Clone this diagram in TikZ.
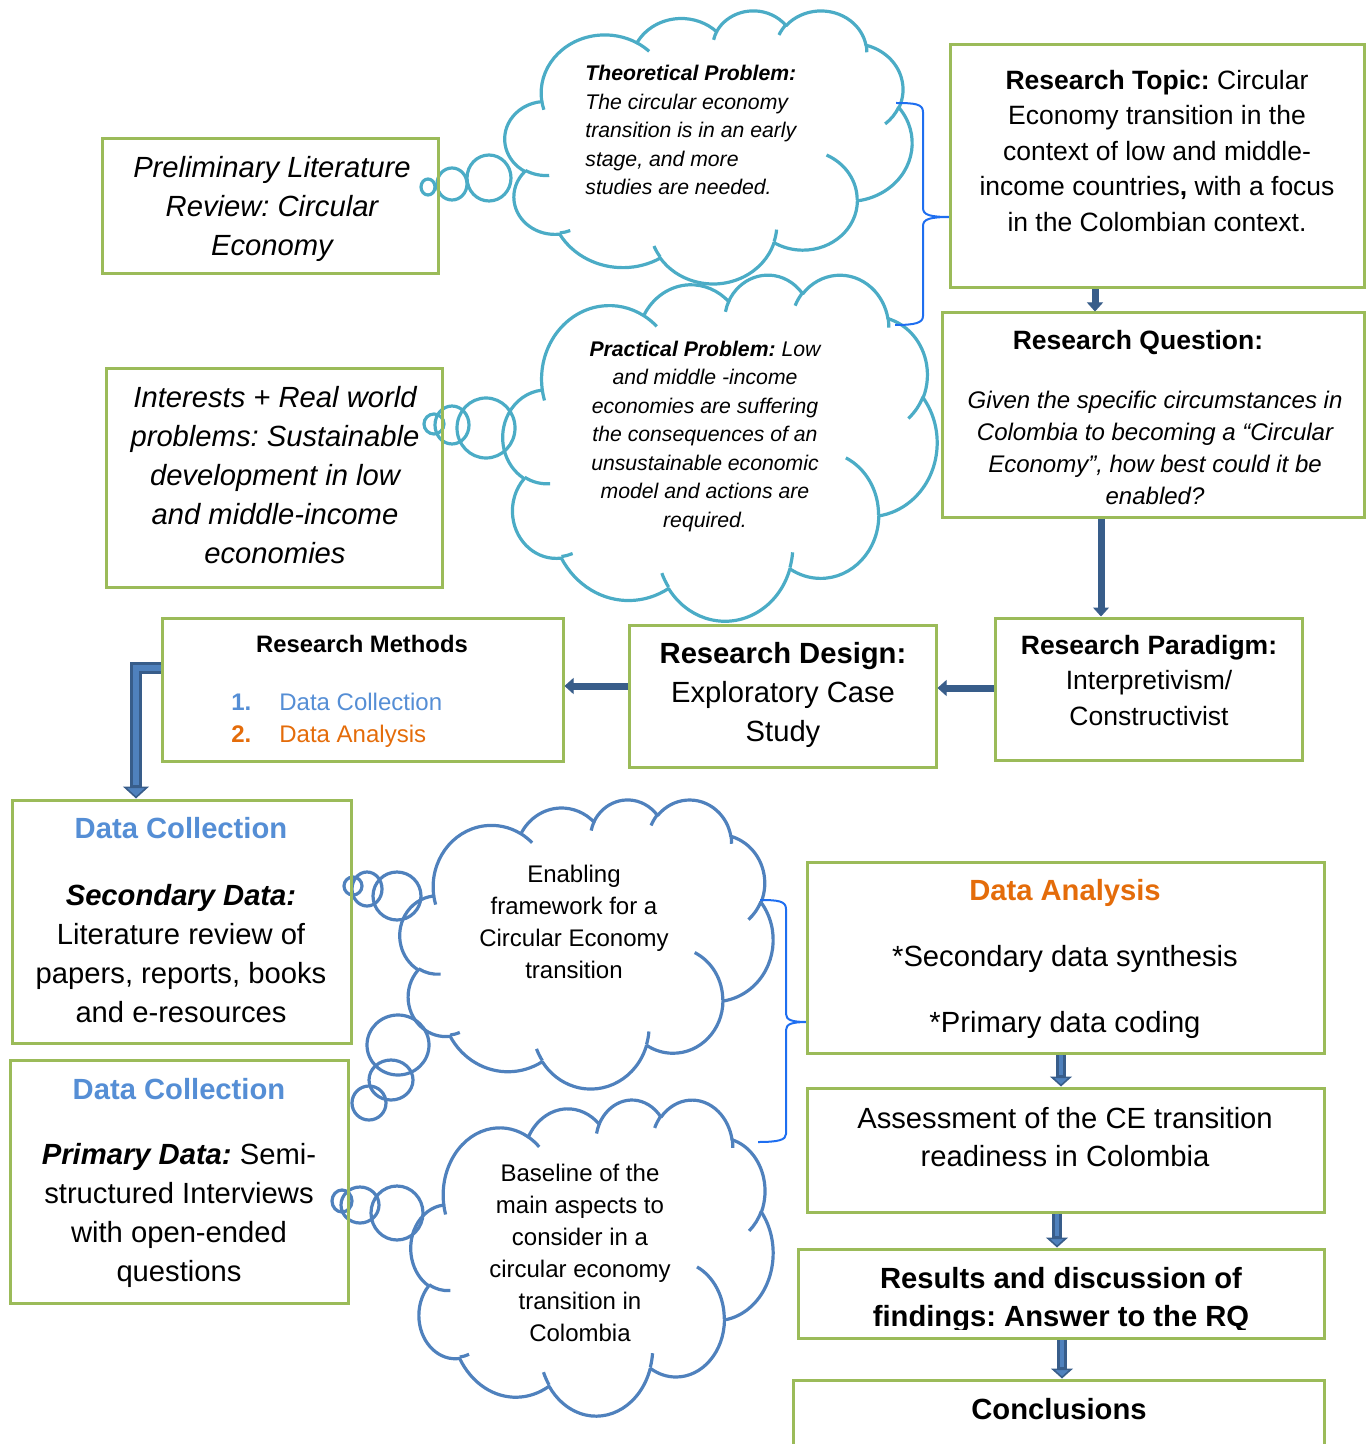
\documentclass[tikz,border=0pt]{standalone}
\usepackage{fontspec}
\setmainfont{Liberation Sans}
\frenchspacing
\usetikzlibrary{arrows.meta,fit,positioning}

\definecolor{boxgreen}{RGB}{155,187,89}
\definecolor{cloudteal}{RGB}{75,172,198}
\definecolor{cloudblue}{RGB}{79,129,189}
\definecolor{bracecol}{RGB}{30,110,240}
\definecolor{arrowdark}{RGB}{56,93,138}
\definecolor{arrowfill}{RGB}{79,129,189}
\definecolor{headblue}{RGB}{85,142,213}
\definecolor{headorange}{RGB}{228,108,10}

\tikzset{
  box/.style={draw=boxgreen, line width=1.5pt, line join=miter, inner sep=0pt},
  txt/.style={inner sep=0pt, align=center},
  sz106i/.style={font=\fontsize{10.6}{14.25}\selectfont\itshape},
  sz120/.style={font=\fontsize{12}{16}\selectfont},
  sz120i/.style={font=\fontsize{12}{16}\selectfont\itshape},
  sz132/.style={font=\fontsize{13.25}{17.75}\selectfont},
  sz146/.style={font=\fontsize{14.6}{19.5}\selectfont},
  sz146i/.style={font=\fontsize{14.6}{19.5}\selectfont\itshape},
  sz146b/.style={font=\fontsize{14.6}{19}\selectfont\bfseries},
  flow/.style={draw=arrowdark, line width=3.5pt,
    -{Triangle[width=8pt,length=4.5pt,line width=0.5pt]}},
  flowout/.style={draw=arrowdark, line width=5pt,
    -{Triangle[width=11pt,length=5pt,line width=0.8pt,fill=arrowfill]}},
  flowcore/.style={draw=arrowfill, line width=2.2pt, shorten >=6pt},
  elbowout/.style={draw=arrowdark, line width=6pt, line join=miter,
    -{Triangle[width=13pt,length=6pt,line width=0.8pt,fill=arrowfill]}},
  elbowcore/.style={draw=arrowfill, line width=3.4pt, line join=miter, shorten >=7pt},
  brace/.style={draw=bracecol, line width=1pt},
  bubble/.style={line width=1.6pt},
}

% one arc of an office cloud: x radius, y radius, start angle, sweep (visual angles)
\newcommand\cloudarc[4]{%
  \pgfextra{%
    \pgfmathparse{atan2((#1)*sin(#3),(#2)*cos(#3))}\xdef\cloudA{\pgfmathresult}%
    \pgfmathparse{atan2((#1)*sin((#3)+(#4)),(#2)*cos((#3)+(#4)))}\xdef\cloudB{\pgfmathresult}%
    \pgfmathparse{(\cloudB)-(\cloudA)-(#4)}\xdef\cloudD{\pgfmathresult}%
    \pgfmathparse{(#4)+(\cloudD)-360*round((\cloudD)/360)}\xdef\cloudD{\pgfmathresult}%
  }%
  arc[start angle=\cloudA, delta angle=\cloudD, x radius=#1, y radius=#2]}

% cloud outline: left, top, width, height, colour
\newcommand\wordcloud[5]{%
  \begin{scope}[shift={(#1,#2)},xscale=#3/43.2,yscale=#4/43.2]
    \draw[draw=#5,line width=1.6pt] (3.900,14.370)
      \cloudarc{6.753}{9.190}{-190.4875}{123.7805}
      \cloudarc{5.333}{7.267}{-144.1024}{89.9452}
      \cloudarc{4.365}{5.945}{-145.8079}{99.7230}
      \cloudarc{4.857}{6.595}{-130.9861}{117.2417}
      \cloudarc{5.333}{7.273}{-78.7089}{109.0269}
      \cloudarc{6.775}{9.220}{-46.2673}{130.2690}
      \cloudarc{5.785}{7.867}{0.6250}{114.0333}
      \cloudarc{6.752}{9.215}{22.4516}{115.1726}
      \cloudarc{7.720}{10.543}{66.2426}{75.7110}
      \cloudarc{4.360}{5.918}{-274.9421}{146.7356}
      \cloudarc{4.345}{5.945}{-246.8285}{152.5189}
      -- cycle;
    \draw[draw=#5,line width=1.6pt]
      (4.693,26.177) \cloudarc{4.345}{5.945}{86.7420}{26.4295}
      (6.928,34.899) \cloudarc{4.360}{5.918}{73.6105}{11.4475}
      (16.478,39.090) \cloudarc{6.752}{9.215}{137.6242}{14.0811}
      (28.827,34.751) \cloudarc{6.752}{9.215}{6.4533}{15.9984}
      (34.129,22.954) \cloudarc{5.785}{7.867}{-70.2924}{70.9174}
      (41.798,15.354) \cloudarc{5.333}{7.273}{30.3180}{27.7515}
      (38.324,5.426) \cloudarc{4.857}{6.595}{-13.7443}{14.8589}
      (29.078,3.952) \cloudarc{4.857}{6.595}{-149.1815}{18.1954}
      (22.141,4.720) \cloudarc{4.365}{5.945}{-163.4943}{17.6864}
      (14.000,5.192) \cloudarc{6.753}{9.190}{-66.7070}{12.3194}
      (4.127,15.789) \cloudarc{6.753}{9.190}{157.6544}{11.8582};
  \end{scope}}

\begin{document}
\begin{tikzpicture}[>=latex,line join=bevel,x=0.5pt,y=-0.5pt]
  \useasboundingbox (0,0) rectangle (1370,1444);
  \clip (0,0) rectangle (1370,1444);
%%
  % Cloud: Theoretical problem
  \wordcloud{505}{10}{407}{273}{cloudteal}
  \draw[bubble,cloudteal] (428,187) circle[x radius=7,y radius=8];
  \draw[bubble,cloudteal] (452,184) circle[x radius=15,y radius=16];
  \draw[bubble,cloudteal] (489,178) circle[x radius=22,y radius=23];
  \node[txt,sz106i,align=left,anchor=west] (theo-t) at (585,130)
    {\textbf{Theoretical Problem:}\\The circular economy\\transition is in an early\\stage, and more\\studies are needed.};
  % Cloud: Practical problem
  \wordcloud{503}{274}{434}{346}{cloudteal}
  \draw[bubble,cloudteal] (434,424) circle[x radius=10,y radius=10];
  \draw[bubble,cloudteal] (452,425) circle[x radius=17,y radius=19];
  \draw[bubble,cloudteal] (486,428) circle[x radius=29,y radius=30];
  \node[txt,sz106i] (prac-t) at (705,436.5)
    {\textbf{Practical Problem:} Low\\and middle -income\\economies are suffering\\the consequences of an\\unsustainable economic\\model and actions are\\required.};
  % Cloud: Enabling framework
  \wordcloud{400}{799}{373}{289}{cloudblue}
  \draw[bubble,cloudblue] (353,886) circle[x radius=9,y radius=9];
  \draw[bubble,cloudblue] (367,889) circle[x radius=15,y radius=17];
  \draw[bubble,cloudblue] (397,896) circle[x radius=24,y radius=24];
  \draw[bubble,cloudblue] (398,1045) circle[x radius=31,y radius=30];
  \draw[bubble,cloudblue] (391,1080) circle[x radius=22,y radius=20];
  \draw[bubble,cloudblue] (369,1103) circle[x radius=17,y radius=17];
  \node[txt,sz120] (enab-t) at (574,922)
    {Enabling\\framework for a\\Circular Economy\\transition};
  % Cloud: Baseline
  \wordcloud{411}{1099}{362}{316}{cloudblue}
  \draw[bubble,cloudblue] (342,1201) circle[x radius=10,y radius=11];
  \draw[bubble,cloudblue] (360,1205) circle[x radius=19,y radius=18];
  \draw[bubble,cloudblue] (397,1213) circle[x radius=26,y radius=27];
  \node[txt,sz120] (base-t) at (580,1252.5)
    {Baseline of the\\main aspects to\\consider in a\\circular economy\\transition in\\Colombia};
%%
  % Brace: problems -> topic
  \draw[brace] (896,103) .. controls (915,103) and (923,104) .. (923,112)
    -- (923,208) .. controls (923,215) and (930,217) .. (950,217)
    .. controls (930,217) and (923,219) .. (923,226)
    -- (923,316) .. controls (923,323) and (915,325) .. (895,325);
  % Brace: clouds -> analysis
  \draw[brace] (760,900) .. controls (778,900) and (786,901) .. (786,909)
    -- (786,1014) .. controls (786,1020) and (792,1022) .. (807,1022)
    .. controls (792,1022) and (786,1024) .. (786,1030)
    -- (786,1134) .. controls (786,1140) and (778,1142) .. (758,1142);
%%
  % Node: prelim
  \node[box,fit={(102,139) (438,274)}] (prelim) {};
  \node[txt,sz146i] (prelim-t) at (272,209) {Preliminary Literature\\Review: Circular\\Economy};
  % Node: topic
  \node[box,fit={(950,45) (1364,288)}] (topic) {};
  \node[txt,sz132] (topic-t) at (1157,151)
    {\textbf{Research Topic:} Circular\\Economy transition in the\\context of low and middle-\\income countries\textbf{,} with a focus\\in the Colombian context.};
  % Node: question
  \node[box,fit={(942,313) (1364,517)}] (question) {};
  \node[txt,sz132] (question-h) at (1138,343) {\textbf{Research Question:}};
  \node[txt,sz120i] (question-t) at (1155,448)
    {Given the specific circumstances in\\Colombia to becoming a “Circular\\Economy”, how best could it be\\enabled?};
  % Node: interests
  \node[box,fit={(106,368) (442,587)}] (interests) {};
  \node[txt,sz146i] (interests-t) at (275,475.5)
    {Interests + Real world\\problems: Sustainable\\development in low\\and middle-income\\economies};
  % Node: methods
  \node[box,fit={(162,618) (563,761)}] (methods) {};
  \node[txt,font=\fontsize{11.9}{16}\selectfont\bfseries] (methods-h) at (362,644) {Research Methods};
  \node[txt,sz120,align=left,anchor=west] (methods-t) at (231,720)
    {\textcolor{headblue}{\makebox[24pt][l]{\textbf{1.}}Data Collection}\\\textcolor{headorange}{\makebox[24pt][l]{\textbf{2.}}Data Analysis}};
  % Node: design
  \node[box,fit={(629,625) (936,767)}] (design) {};
  \node[txt,sz146] (design-t) at (783,695) {\textbf{Research Design:}\\Exploratory Case\\Study};
  % Node: paradigm
  \node[box,fit={(995,618) (1302,760)}] (paradigm) {};
  \node[txt,sz132] (paradigm-t) at (1149,680.5) {\textbf{Research Paradigm:}\\Interpretivism/\\Constructivist};
  % Node: secondary
  \node[box,fit={(12,800) (351,1043)}] (secondary) {};
  \node[txt,sz146] (secondary-t) at (181,920.5)
    {\textcolor{headblue}{\textbf{Data Collection}}\\[14pt]\textbf{\textit{Secondary Data:}}\\Literature review of\\papers, reports, books\\and e-resources};
  % Node: primary
  \node[box,fit={(10,1060) (348,1303)}] (primary) {};
  \node[txt,sz146] (primary-t) at (179,1183)
    {\textcolor{headblue}{\textbf{Data Collection}}\\[13pt]\textbf{\textit{Primary Data:}} Semi-\\structured Interviews\\with open-ended\\questions};
  % Node: analysis
  \node[box,fit={(807,862) (1324,1053)}] (analysis) {};
  \node[txt,sz146] (analysis-t) at (1065,959)
    {\textcolor{headorange}{\textbf{Data Analysis}}\\[13.5pt]*Secondary data synthesis\\[13.5pt]*Primary data coding};
  % Node: assess
  \node[box,fit={(807,1088) (1324,1212)}] (assess) {};
  \node[txt,font=\fontsize{14.6}{19}\selectfont] (assess-t) at (1065,1137)
    {Assessment of the CE transition\\readiness in Colombia};
  % Node: results
  \node[box,fit={(798,1249) (1324,1338)}] (results) {};
\begin{scope}
  \clip (800,1251) rectangle (1322,1329);
  \node[txt,sz146b] (results-t) at (1061,1300) {Results and discussion of\\findings: Answer to the RQ};
\end{scope}
  % Node: concl
  \node[box,fit={(793,1380) (1324,1470)}] (concl) {};
  \node[txt,sz146b] (concl-t) at (1059,1409) {Conclusions};
%%
  % Edge: topic -> question
  \draw[flow] (1095,0 |- topic.south) -- (1095,0 |- question.north);
  % Edge: question -> paradigm
  \draw[flow] (1101,0 |- question.south) -- (1101,0 |- paradigm.north);
  % Edge: paradigm -> design
  \draw[flow] (paradigm.west |- 0,688) -- (design.east |- 0,688);
  % Edge: design -> methods
  \draw[flow] (design.west |- 0,686) -- (methods.east |- 0,686);
  % Edge: methods -> secondary
  \draw[elbowout] (methods.west |- 0,668) -| (136,0 |- secondary.north);
  \draw[elbowcore] (methods.west |- 0,668) -| (136,0 |- secondary.north);
  % Edge: analysis -> assess
  \draw[flowout] (1061,0 |- analysis.south) -- (1061,0 |- assess.north);
  \draw[flowcore] (1061,0 |- analysis.south) -- (1061,0 |- assess.north);
  % Edge: assess -> results
  \draw[flowout] (1057,0 |- assess.south) -- (1057,0 |- results.north);
  \draw[flowcore] (1057,0 |- assess.south) -- (1057,0 |- results.north);
  % Edge: results -> concl
  \draw[flowout] (1062,0 |- results.south) -- (1062,0 |- concl.north);
  \draw[flowcore] (1062,0 |- results.south) -- (1062,0 |- concl.north);
%
\end{tikzpicture}
\end{document}
